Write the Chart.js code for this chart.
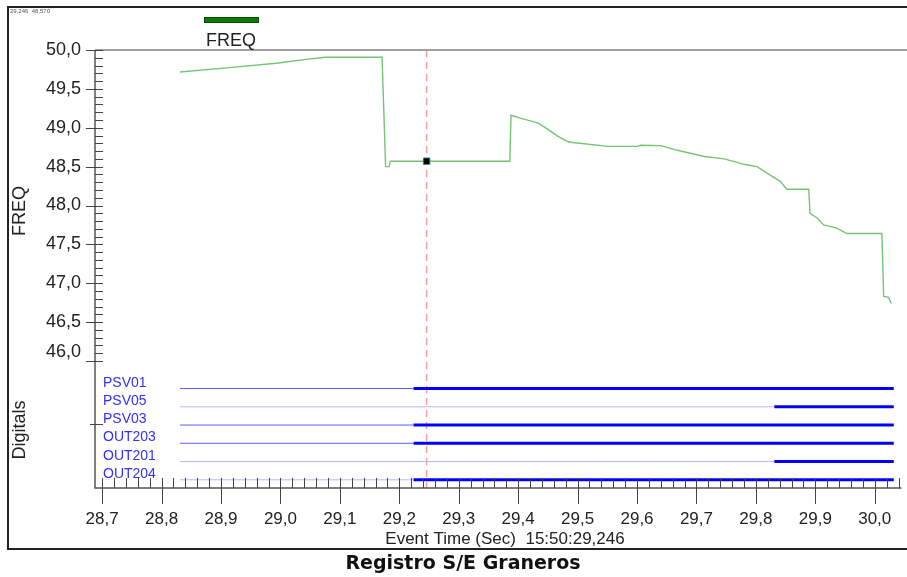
<!DOCTYPE html>
<html>
<head>
<meta charset="utf-8">
<title>Registro S/E Graneros</title>
<script src="https://cdn.jsdelivr.net/npm/chart.js@4/dist/chart.umd.min.js"></script>
<style>
  html, body { margin: 0; padding: 0; background: #fff; }
  #wrap { width: 907px; height: 577px; }
</style>
</head>
<body>
<div id="wrap"><canvas id="chart" width="907" height="577"></canvas></div>
<script>
// FREQ trace (time in s, frequency in Hz)
const freqTime = [28.831, 28.909, 28.993, 29.043, 29.076, 29.171, 29.177, 29.183, 29.185,
  29.386, 29.388, 29.405, 29.434, 29.450, 29.467, 29.484, 29.492, 29.551, 29.601, 29.606,
  29.640, 29.668, 29.713, 29.747, 29.780, 29.802, 29.824, 29.841, 29.852, 29.889, 29.891,
  29.903, 29.914, 29.936, 29.953, 30.012, 30.015, 30.023, 30.028];
const freqValue = [49.717, 49.77, 49.83, 49.88, 49.906, 49.906, 48.50, 48.50, 48.57,
  48.57, 49.16, 49.12, 49.06, 48.98, 48.89, 48.82, 48.81, 48.76, 48.76, 48.775,
  48.77, 48.71, 48.63, 48.60, 48.53, 48.50, 48.39, 48.31, 48.21, 48.21, 47.90,
  47.84, 47.75, 47.71, 47.64, 47.64, 46.83, 46.82, 46.74];

// cursor
const cursorTime = 29.246;
const cursorValue = 48.57;

// digital channels
const digitalNames = ["PSV01", "PSV05", "PSV03", "OUT203", "OUT201", "OUT204"];
const digitalSwitch = [29.224, 29.831, 29.224, 29.224, 29.831, 29.224];
const digitalFaint = [false, true, false, false, true, true];
const digitalStart = 28.831;
const digitalEnd = 30.032;

// axes
const freqTicks = [46.0, 46.5, 47.0, 47.5, 48.0, 48.5, 49.0, 49.5, 50.0];
const timeTicks = [28.7, 28.8, 28.9, 29.0, 29.1, 29.2, 29.3, 29.4, 29.5, 29.6, 29.7, 29.8, 29.9, 30.0];

const FONT = "'Liberation Sans', Arial, sans-serif";
const fmt = (v, d) => v.toFixed(d).replace(".", ",");

const rowCount = digitalNames.length;
const rowValue = i => (rowCount - 1 - i) + 0.45;

const datasets = [];
datasets.push({
  label: "FREQ",
  data: freqTime.map((t, i) => ({ x: t, y: freqValue[i] })),
  borderColor: "#74c474",
  borderWidth: 1.4,
  pointRadius: 0,
  tension: 0,
  yAxisID: "y"
});
datasets.push({
  label: "cursor",
  data: [{ x: cursorTime, y: cursorValue }],
  order: -1,
  showLine: false,
  pointStyle: "rectRot",
  rotation: 45,
  pointRadius: 4.5,
  backgroundColor: "#000",
  borderColor: "#3a6f80",
  borderWidth: 1,
  yAxisID: "y"
});
digitalNames.forEach((name, i) => {
  const states = [0, 1];
  datasets.push({
    label: name,
    data: [
      { x: digitalStart, y: rowValue(i) },
      { x: digitalSwitch[i], y: rowValue(i) },
      { x: digitalEnd, y: rowValue(i) }
    ],
    borderColor: "#0000ff",
    borderWidth: 1,
    pointRadius: 0,
    yAxisID: "yd",
    segment: {
      borderWidth: ctx => states[ctx.p0DataIndex] ? 3 : 1,
      borderColor: ctx => states[ctx.p0DataIndex] ? "#0000ff" : (digitalFaint[i] ? "#b4b8ff" : "#5a5cff")
    }
  });
});

const decor = {
  id: "decor",
  beforeDatasetsDraw(chart) {
    const { ctx, chartArea: a } = chart;
    const x = chart.scales.x;
    const cx = x.getPixelForValue(cursorTime);
    ctx.save();
    ctx.strokeStyle = "#f4a0a0";
    ctx.lineWidth = 1.5;
    ctx.setLineDash([7, 5]);
    ctx.beginPath();
    ctx.moveTo(cx, a.top);
    ctx.lineTo(cx, a.bottom);
    ctx.stroke();
    ctx.restore();
  },
  afterDraw(chart) {
    const { ctx, chartArea: a } = chart;
    const x = chart.scales.x, y = chart.scales.y, yd = chart.scales.yd;
    ctx.save();

    // outer frame
    ctx.strokeStyle = "#222";
    ctx.lineWidth = 2;
    ctx.beginPath();
    ctx.moveTo(907, 7); ctx.lineTo(8, 7); ctx.lineTo(8, 549); ctx.lineTo(907, 549);
    ctx.stroke();

    // top border of plot
    ctx.strokeStyle = "#a0a0a0";
    ctx.lineWidth = 2;
    ctx.beginPath();
    ctx.moveTo(a.left, a.top); ctx.lineTo(907, a.top);
    ctx.stroke();

    // axis lines
    ctx.strokeStyle = "#555";
    ctx.lineWidth = 1.5;
    ctx.beginPath();
    ctx.moveTo(a.left, a.top); ctx.lineTo(a.left, a.bottom); ctx.lineTo(a.right, a.bottom);
    ctx.stroke();

    // y ticks (frequency)
    ctx.lineWidth = 1;
    ctx.strokeStyle = "#444";
    const bandTop = y.getPixelForValue(freqTicks[0]);
    for (let k = 0; k <= 40; k++) {
      const v = freqTicks[0] + k * 0.1;
      const py = Math.round(y.getPixelForValue(v)) + 0.5;
      const major = k % 5 === 0;
      ctx.beginPath();
      ctx.moveTo(a.left - (major ? 9 : 0), py);
      ctx.lineTo(a.left + 8, py);
      ctx.stroke();
    }
    // digitals band middle tick
    const midY = Math.round(yd.getPixelForValue(3.5)) + 0.5;
    ctx.beginPath();
    ctx.moveTo(a.left - 5, midY); ctx.lineTo(a.left + 8, midY);
    ctx.stroke();

    ctx.fillStyle = "#222";
    ctx.font = "18px " + FONT;
    ctx.textAlign = "right";
    ctx.textBaseline = "middle";
    freqTicks.forEach(v => {
      const py = Math.min(y.getPixelForValue(v), bandTop - 9);
      ctx.fillText(fmt(v, 1), a.left - 14, py);
    });

    // x ticks
    for (let k = 0; k <= 67; k++) {
      const v = timeTicks[0] + k * 0.02;
      const px = Math.round(x.getPixelForValue(v)) + 0.5;
      if (px > a.right) break;
      const major = k % 5 === 0;
      ctx.beginPath();
      ctx.moveTo(px, a.bottom - 10);
      ctx.lineTo(px, a.bottom + (major ? 16 : 0));
      ctx.stroke();
    }
    ctx.font = "17px " + FONT;
    ctx.textAlign = "center";
    ctx.textBaseline = "middle";
    timeTicks.forEach(v => ctx.fillText(fmt(v, 1), x.getPixelForValue(v), 519));

    // axis titles
    ctx.fillText("Event Time (Sec)  15:50:29,246", 505, 539);
    ctx.font = "18px " + FONT;
    ctx.save();
    ctx.translate(20, 211);
    ctx.rotate(-Math.PI / 2);
    ctx.fillText("FREQ", 0, 0);
    ctx.restore();
    ctx.save();
    ctx.translate(20, 430);
    ctx.rotate(-Math.PI / 2);
    ctx.fillText("Digitals", 0, 0);
    ctx.restore();

    // legend
    ctx.fillStyle = "#0b7a0b";
    ctx.fillRect(204, 17, 55, 6);
    ctx.strokeStyle = "#054d05";
    ctx.strokeRect(204.5, 17.5, 54, 5);
    ctx.fillStyle = "#222";
    ctx.fillText("FREQ", 231, 41);

    // digital channel labels
    ctx.font = "14px " + FONT;
    ctx.fillStyle = "#3030ff";
    ctx.textAlign = "left";
    ctx.textBaseline = "alphabetic";
    digitalNames.forEach((name, i) => {
      ctx.fillText(name, a.left + 8, yd.getPixelForValue(rowValue(i)) - 2);
    });

    // cursor readout
    ctx.font = "6px " + FONT;
    ctx.fillStyle = "#555";
    ctx.textBaseline = "middle";
    ctx.fillText(fmt(cursorTime, 3) + "  " + fmt(cursorValue, 3), 10, 11);

    // caption
    ctx.font = "bold 19px 'DejaVu Sans', Verdana, sans-serif";
    ctx.fillStyle = "#111";
    ctx.textAlign = "center";
    ctx.fillText("Registro S/E Graneros", 463, 564);

    ctx.restore();
  }
};

new Chart(document.getElementById("chart"), {
  type: "line",
  data: { datasets: datasets },
  options: {
    responsive: false,
    animation: false,
    events: [],
    layout: { padding: { left: 95, top: 50, right: 2, bottom: 89 } },
    plugins: { legend: { display: false }, tooltip: { enabled: false } },
    scales: {
      x: { type: "linear", min: 28.688, max: 30.045, display: false },
      y: { type: "linear", min: 44.367, max: 50, display: false },
      yd: { type: "linear", min: 0, max: 24, display: false }
    }
  },
  plugins: [decor]
});
</script>
</body>
</html>
